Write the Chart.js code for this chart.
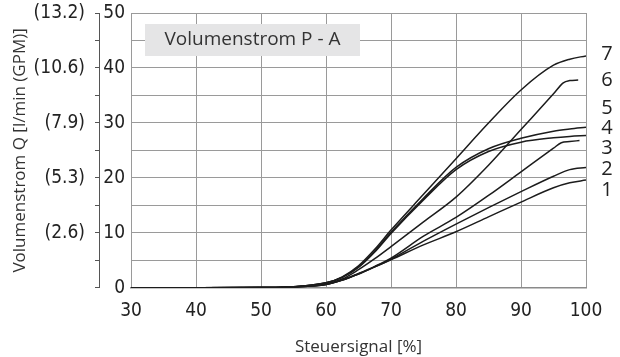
<!DOCTYPE html>
<html>
<head>
<meta charset="utf-8">
<script src="https://cdn.jsdelivr.net/npm/chart.js@4/dist/chart.umd.min.js"></script>
<style>
  html, body { margin: 0; padding: 0; background: #fff; }
  #wrap { width: 620px; height: 357px; }
</style>
</head>
<body>
<div id="wrap"><canvas id="flow" width="620" height="357"></canvas></div>
<script>
/* ---------- data ---------- */
const sig = [30, 40, 50, 55, 60, 62.5, 65, 67.5, 70, 75, 80, 85, 90, 95, 97.5, 100];

const q7 = [0, 0, 0.05, 0.2, 0.9, 2.0, 4.0, 7.0, 10.5, 17.0, 23.5, 30.0, 36.0, 40.5, 41.6, 42.2];
const q5 = [0, 0, 0.05, 0.2, 0.9, 1.9, 3.8, 6.7, 10.1, 16.3, 21.9, 25.3, 27.2, 28.5, 28.9, 29.2];
const q4 = [0, 0, 0.05, 0.2, 0.9, 1.9, 3.7, 6.5, 9.9, 16.0, 21.5, 24.8, 26.5, 27.3, 27.55, 27.7];
const q2 = [0, 0, 0.05, 0.15, 0.6, 1.4, 2.5, 3.8, 5.2, 8.5, 11.6, 14.6, 17.5, 20.3, 21.5, 21.9];
const q1 = [0, 0, 0.05, 0.15, 0.6, 1.4, 2.5, 3.8, 5.1, 7.8, 10.2, 12.9, 15.6, 18.2, 19.1, 19.6];

const sig6 = [30, 40, 50, 55, 60, 62.5, 65, 67.5, 70, 75, 80, 85, 90, 95, 96.5, 97.5, 98.8];
const q6 = [0, 0, 0.05, 0.15, 0.7, 1.6, 3.3, 5.3, 7.5, 12.0, 16.5, 22.3, 28.8, 35.3, 37.3, 37.7, 37.8];

const sig3 = [30, 40, 50, 55, 60, 62.5, 65, 67.5, 70, 75, 80, 85, 90, 95, 96.2, 97.5, 99];
const q3 = [0, 0, 0.05, 0.15, 0.6, 1.4, 2.6, 3.9, 5.4, 9.4, 12.8, 16.8, 21.1, 25.4, 26.4, 26.6, 26.8];

const curveNames = ["1", "2", "3", "4", "5", "6", "7"];
const curveLabelY = [17.8, 21.5, 25.3, 29.1, 32.7, 37.8, 42.4];   // where the numbers sit on the right
const gpmLabels = ["(2.6)", "(5.3)", "(7.9)", "(10.6)", "(13.2)"]; // for 10, 20, 30, 40, 50 l/min

const INK = "#1c1c1c";
const GRID = "#9a9a9a";
const NARROW = "'Liberation Sans Narrow', 'DejaVu Sans Condensed', Roboto, sans-serif";
const WIDE = "'Open Sans', 'Noto Sans', sans-serif";

function pts(xs, ys) {
    return xs.map((x, i) => ({ x: x, y: ys[i] }));
}

function curve(name, xs, ys) {
    return {
        label: name,
        data: pts(xs, ys),
        borderColor: INK,
        borderWidth: 1.5,
        pointRadius: 0,
        fill: false,
        cubicInterpolationMode: "monotone"
    };
}

// keep the tick labels from pushing the plot area around
function fixWidth(w) {
    return s => {
        s.width = w;
        s.paddingTop = 0;
        s.paddingBottom = 0;
    };
}

/* ---------- overlay: title box + curve numbers ---------- */
const overlay = {
    id: "overlay",
    afterDraw(chart) {
        const ctx = chart.ctx;
        const a = chart.chartArea;
        const ys = chart.scales.y;

        ctx.save();
        // caption box
        ctx.fillStyle = "#e5e5e6";
        ctx.fillRect(a.left + 14, a.top + 11, 215, 32);
        ctx.fillStyle = "#333";
        ctx.font = "19px " + WIDE;
        ctx.textAlign = "center";
        ctx.textBaseline = "middle";
        ctx.fillText("Volumenstrom P - A", a.left + 14 + 107.5, a.top + 27);

        // curve numbers
        ctx.font = "20px " + WIDE;
        ctx.fillStyle = "#222";
        curveNames.forEach((n, i) => {
            ctx.fillText(n, a.right + 21, ys.getPixelForValue(curveLabelY[i]));
        });
        ctx.restore();
    }
};

new Chart(document.getElementById("flow"), {
    type: "line",
    data: {
        datasets: [
            curve("1", sig, q1),
            curve("2", sig, q2),
            curve("3", sig3, q3),
            curve("4", sig, q4),
            curve("5", sig, q5),
            curve("6", sig6, q6),
            curve("7", sig, q7)
        ]
    },
    options: {
        responsive: false,
        animation: false,
        layout: { padding: { left: 0, right: 34, top: 13, bottom: 0 } },
        plugins: {
            legend: { display: false },
            tooltip: { enabled: false }
        },
        scales: {
            x: {
                type: "linear",
                min: 30,
                max: 100,
                grid: { color: GRID, lineWidth: 1, drawTicks: false },
                border: { display: true, color: "#8a8a8a", width: 1.5 },
                ticks: {
                    stepSize: 10,
                    padding: 12,
                    color: "#222",
                    font: { family: NARROW, size: 19 }
                },
                title: {
                    display: true,
                    text: "Steuersignal [%]",
                    color: "#333",
                    font: { family: WIDE, size: 17 },
                    padding: { top: 2, bottom: 0 }
                }
            },
            y: {
                position: "left",
                weight: 0,
                min: 0,
                max: 50,
                grid: { color: GRID, lineWidth: 1, drawTicks: false },
                border: { display: false },
                ticks: {
                    stepSize: 5,
                    autoSkip: false,
                    padding: 6,
                    color: "#222",
                    font: { family: NARROW, size: 19 },
                    callback: v => (v % 10 === 0 ? v : "")
                },
                afterFit: fixWidth(32)
            },
            gpm: {
                position: "left",
                weight: 1,
                min: 0,
                max: 50,
                grid: { drawOnChartArea: false, drawTicks: true, tickLength: 4, color: "#555" },
                border: { display: true, color: "#555", width: 1 },
                ticks: {
                    stepSize: 5,
                    autoSkip: false,
                    padding: 10,
                    color: "#222",
                    font: { family: NARROW, size: 19 },
                    callback: v => (v % 10 === 0 && v > 0 ? gpmLabels[v / 10 - 1] : "")
                },
                title: {
                    display: true,
                    text: "Volumenstrom Q [l/min (GPM)]",
                    color: "#333",
                    font: { family: WIDE, size: 17 },
                    padding: { top: 10, bottom: 0 }
                },
                afterFit: fixWidth(99)
            }
        }
    },
    plugins: [overlay]
});
</script>
</body>
</html>
